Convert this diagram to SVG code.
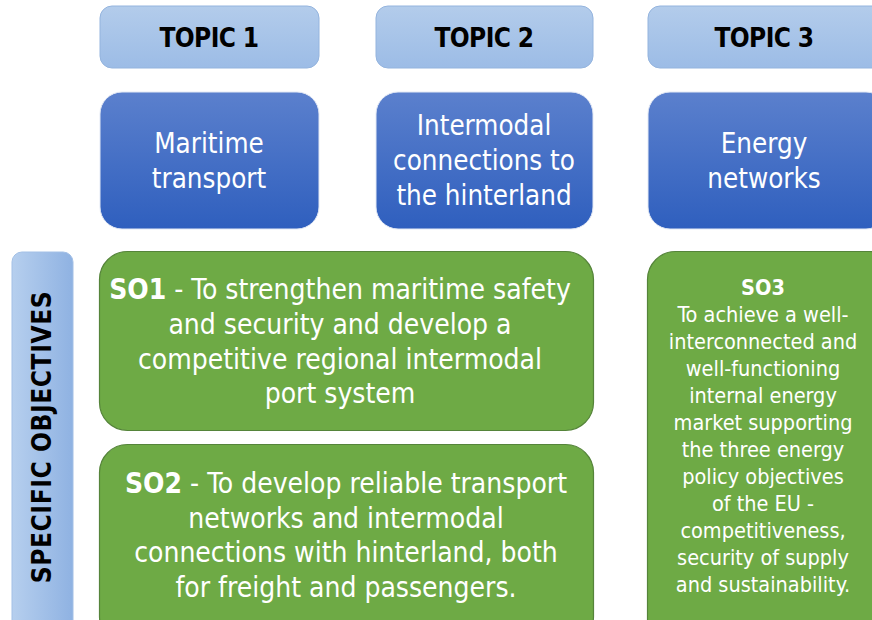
<svg xmlns="http://www.w3.org/2000/svg" width="872" height="620" viewBox="0 0 872 620">
  <defs>
    <linearGradient id="gTopic" x1="0" y1="0" x2="0" y2="1">
      <stop offset="0" stop-color="#b3cceb"/>
      <stop offset="1" stop-color="#9cbce6"/>
    </linearGradient>
    <linearGradient id="gTheme" x1="0" y1="0" x2="0" y2="1">
      <stop offset="0" stop-color="#5b80cd"/>
      <stop offset="1" stop-color="#2f5fbe"/>
    </linearGradient>
    <linearGradient id="gSide" x1="0" y1="0" x2="1" y2="0">
      <stop offset="0" stop-color="#b6cfee"/>
      <stop offset="1" stop-color="#8fb2e2"/>
    </linearGradient>
    <style>
      .topic { fill: url(#gTopic); stroke: #94b4de; stroke-width: 1; }
      .theme { fill: url(#gTheme); stroke: #e3e9f5; stroke-width: 1; }
      .side { fill: url(#gSide); stroke: #a3c0e6; stroke-width: 1; }
      .so { fill: #6eaa45; stroke: #55843a; stroke-width: 1.2; }
      text { font-family: "DejaVu Sans Condensed", "DejaVu Sans", sans-serif; text-anchor: middle; }
      .tt { font-size: 26px; font-weight: bold; fill: #000; letter-spacing: -0.6px; }
      .wt { font-size: 27.5px; fill: #fff; }
      .so-t { font-size: 28px; fill: #fff; }
      .so3 { font-size: 21.5px; fill: #fff; }
      .b { font-weight: bold; }
      .side-t { font-size: 26px; font-weight: bold; fill: #000; letter-spacing: 0.6px; }
    </style>
  </defs>

  <!-- topic headers -->
  <g id="topic1">
    <rect class="topic" x="100" y="6" width="219" height="62" rx="12"/>
    <text class="tt" x="209" y="47">TOPIC 1</text>
  </g>
  <g id="topic2">
    <rect class="topic" x="376" y="6" width="217" height="62" rx="12"/>
    <text class="tt" x="484" y="47">TOPIC 2</text>
  </g>
  <g id="topic3">
    <rect class="topic" x="648" y="6" width="240" height="62" rx="12"/>
    <text class="tt" x="764" y="47">TOPIC 3</text>
  </g>

  <!-- thematic areas -->
  <g id="theme1">
    <rect class="theme" x="100" y="92" width="219" height="137" rx="22"/>
    <text class="wt" x="209" y="153">Maritime</text>
    <text class="wt" x="209" y="188">transport</text>
  </g>
  <g id="theme2">
    <rect class="theme" x="376" y="92" width="217" height="137" rx="22"/>
    <text class="wt" x="484" y="135">Intermodal</text>
    <text class="wt" x="484" y="170">connections to</text>
    <text class="wt" x="484" y="205">the hinterland</text>
  </g>
  <g id="theme3">
    <rect class="theme" x="648" y="92" width="240" height="137" rx="22"/>
    <text class="wt" x="764" y="153">Energy</text>
    <text class="wt" x="764" y="188">networks</text>
  </g>

  <!-- side label -->
  <g id="side">
    <rect class="side" x="12" y="252" width="61" height="390" rx="10"/>
    <text class="side-t" transform="translate(51 437) rotate(-90)">SPECIFIC OBJECTIVES</text>
  </g>

  <!-- specific objectives -->
  <g id="so1">
    <rect class="so" x="99.5" y="251.5" width="494" height="179" rx="28"/>
    <text class="so-t" x="340" y="299"><tspan class="b">SO1</tspan> - To strengthen maritime safety</text>
    <text class="so-t" x="340" y="334">and security and develop a</text>
    <text class="so-t" x="340" y="369">competitive regional intermodal</text>
    <text class="so-t" x="340" y="403">port system</text>
  </g>
  <g id="so2">
    <rect class="so" x="99.5" y="444.5" width="494" height="200" rx="28"/>
    <text class="so-t" x="346" y="493"><tspan class="b">SO2</tspan> - To develop reliable transport</text>
    <text class="so-t" x="346" y="528">networks and intermodal</text>
    <text class="so-t" x="346" y="562">connections with hinterland, both</text>
    <text class="so-t" x="346" y="597">for freight and passengers.</text>
  </g>
  <g id="so3">
    <rect class="so" x="647.5" y="251.5" width="250" height="400" rx="28"/>
    <text class="so3 b" x="763" y="295">SO3</text>
    <text class="so3" x="763" y="322">To achieve a well-</text>
    <text class="so3" x="763" y="349">interconnected and</text>
    <text class="so3" x="763" y="376">well-functioning</text>
    <text class="so3" x="763" y="403">internal energy</text>
    <text class="so3" x="763" y="430">market supporting</text>
    <text class="so3" x="763" y="457">the three energy</text>
    <text class="so3" x="763" y="484">policy objectives</text>
    <text class="so3" x="763" y="511">of the EU -</text>
    <text class="so3" x="763" y="538">competitiveness,</text>
    <text class="so3" x="763" y="565">security of supply</text>
    <text class="so3" x="763" y="592">and sustainability.</text>
  </g>

  <!-- no connectors in this chart -->
  <g id="connectors"/>
</svg>
